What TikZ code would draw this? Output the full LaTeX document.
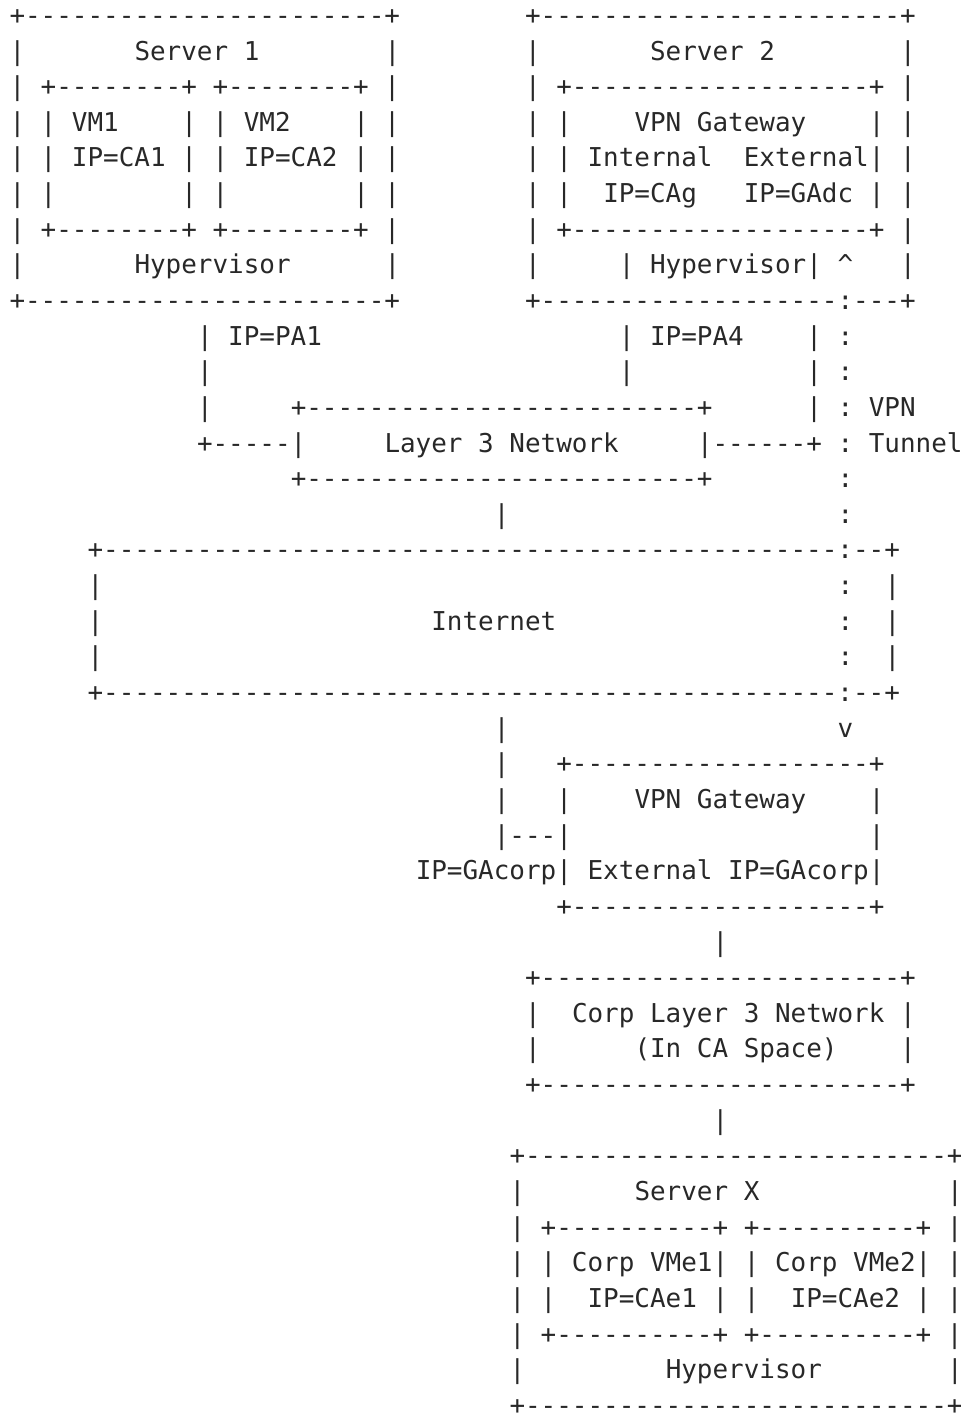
\documentclass[tikz,border=0pt]{standalone}
\usepackage{fontspec}
\setmonofont{DejaVu Sans Mono}
\ExplSyntaxOn
\cs_new:Npn \myrep #1#2 { \prg_replicate:nn {#1} {#2} }
\ExplSyntaxOff
\definecolor{ink}{RGB}{40,40,40}
\tikzset{txt/.style={anchor=base west, inner sep=0pt, outer sep=0pt, text=ink, text depth=0pt,
  font=\ttfamily\fontsize{25.95}{35.64}\selectfont}}
\newcommand\seg[3]{\node[txt] (r#1c#2) at (#2+0.608,#1+0.6846) {#3};}
\begin{document}
\begin{tikzpicture}[x=15.625pt,y=-35.64pt]
\useasboundingbox (0,0) rectangle (61.504,39.675);
% row 0
\seg{0}{0}{+\myrep{23}{-}+}\seg{0}{33}{+\myrep{23}{-}+}
% row 1
\seg{1}{0}{|}\seg{1}{8}{Server 1}\seg{1}{24}{|}\seg{1}{33}{|}\seg{1}{41}{Server 2}\seg{1}{57}{|}
% row 2
\seg{2}{0}{| +\myrep{8}{-}+ +\myrep{8}{-}+ |}\seg{2}{33}{| +\myrep{19}{-}+ |}
% row 3
\seg{3}{0}{| | VM1}\seg{3}{11}{| | VM2}\seg{3}{22}{| |}\seg{3}{33}{| |}\seg{3}{40}{VPN Gateway}\seg{3}{55}{| |}
% row 4
\seg{4}{0}{| | IP=CA1 | | IP=CA2 | |}\seg{4}{33}{| | Internal}\seg{4}{47}{External| |}
% row 5
\seg{5}{0}{| |}\seg{5}{11}{| |}\seg{5}{22}{| |}\seg{5}{33}{| |}\seg{5}{38}{IP=CAg}\seg{5}{47}{IP=GAdc | |}
% row 6
\seg{6}{0}{| +\myrep{8}{-}+ +\myrep{8}{-}+ |}\seg{6}{33}{| +\myrep{19}{-}+ |}
% row 7
\seg{7}{0}{|}\seg{7}{8}{Hypervisor}\seg{7}{24}{|}\seg{7}{33}{|}\seg{7}{39}{| Hypervisor| \textasciicircum}\seg{7}{57}{|}
% row 8
\seg{8}{0}{+\myrep{23}{-}+}\seg{8}{33}{+\myrep{19}{-}:---+}
% rows 9-14
\seg{9}{12}{| IP=PA1}\seg{9}{39}{| IP=PA4}\seg{9}{51}{| :}
\seg{10}{12}{|}\seg{10}{39}{|}\seg{10}{51}{| :}
\seg{11}{12}{|}\seg{11}{18}{+\myrep{25}{-}+}\seg{11}{51}{| : VPN}
\seg{12}{12}{+-----|}\seg{12}{24}{Layer 3 Network}\seg{12}{44}{|------+ : Tunnel}
\seg{13}{18}{+\myrep{25}{-}+}\seg{13}{53}{:}
\seg{14}{31}{|}\seg{14}{53}{:}
% Internet box
\seg{15}{5}{+\myrep{47}{-}:--+}
\seg{16}{5}{|}\seg{16}{53}{:}\seg{16}{56}{|}
\seg{17}{5}{|}\seg{17}{27}{Internet}\seg{17}{53}{:}\seg{17}{56}{|}
\seg{18}{5}{|}\seg{18}{53}{:}\seg{18}{56}{|}
\seg{19}{5}{+\myrep{47}{-}:--+}
% corp VPN gateway
\seg{20}{31}{|}\seg{20}{53}{v}
\seg{21}{31}{|}\seg{21}{35}{+\myrep{19}{-}+}
\seg{22}{31}{|}\seg{22}{35}{|}\seg{22}{40}{VPN Gateway}\seg{22}{55}{|}
\seg{23}{31}{|---|}\seg{23}{55}{|}
\seg{24}{26}{IP=GAcorp| External IP=GAcorp|}
\seg{25}{35}{+\myrep{19}{-}+}
\seg{26}{45}{|}
% corp layer 3 network
\seg{27}{33}{+\myrep{23}{-}+}
\seg{28}{33}{|}\seg{28}{36}{Corp Layer 3 Network |}
\seg{29}{33}{|}\seg{29}{40}{(In CA Space)}\seg{29}{57}{|}
\seg{30}{33}{+\myrep{23}{-}+}
\seg{31}{45}{|}
% server X
\seg{32}{32}{+\myrep{27}{-}+}
\seg{33}{32}{|}\seg{33}{40}{Server X}\seg{33}{60}{|}
\seg{34}{32}{| +\myrep{10}{-}+ +\myrep{10}{-}+ |}
\seg{35}{32}{| | Corp VMe1| | Corp VMe2| |}
\seg{36}{32}{| |}\seg{36}{37}{IP=CAe1 | |}\seg{36}{50}{IP=CAe2 | |}
\seg{37}{32}{| +\myrep{10}{-}+ +\myrep{10}{-}+ |}
\seg{38}{32}{|}\seg{38}{42}{Hypervisor}\seg{38}{60}{|}
\seg{39}{32}{+\myrep{27}{-}+}
\end{tikzpicture}
\end{document}
